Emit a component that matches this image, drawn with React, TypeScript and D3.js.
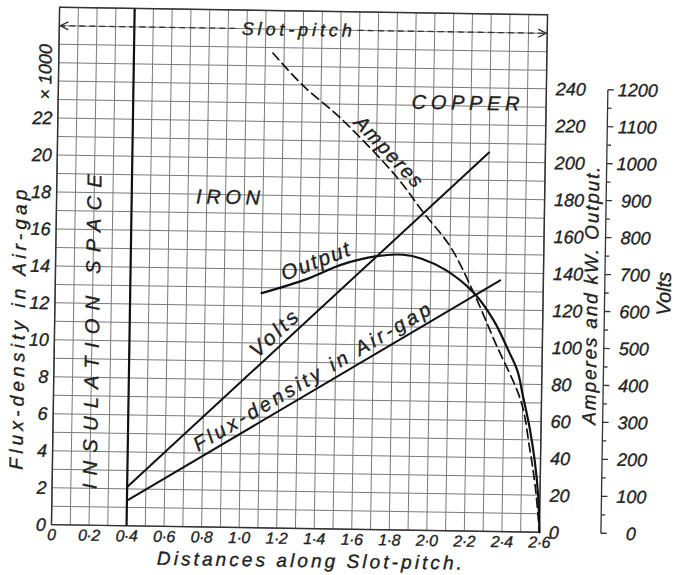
import React from "react";
import * as d3 from "d3";

const W = 682;
const H = 575;

// tick values
const xTicks = [0, 0.2, 0.4, 0.6, 0.8, 1.0, 1.2, 1.4, 1.6, 1.8, 2.0, 2.2, 2.4, 2.6];
const fluxTicks = [0, 2, 4, 6, 8, 10, 12, 14, 16, 18, 20, 22];
const ampTicks = [0, 20, 40, 60, 80, 100, 120, 140, 160, 180, 200, 220, 240];
const voltTicks = [0, 100, 200, 300, 400, 500, 600, 700, 800, 900, 1000, 1100, 1200];

// curves
const voltsX = [0.4, 2.3];
const voltsY = [105, 1025];

const fluxX = [0.4, 2.37];
const fluxY = [1.36, 13.6];

const outputX = [1.1, 1.34, 1.52, 1.71, 1.85, 1.95, 2.08, 2.23, 2.34, 2.42, 2.47, 2.5, 2.54, 2.57, 2.59, 2.6];
const outputY = [127, 135, 143, 148, 149, 147, 141, 129, 114, 98, 87, 74, 56, 38, 20, 0];

const ampX = [1.14, 1.3, 1.51, 1.81, 1.955, 2.1, 2.23, 2.35, 2.49, 2.54, 2.575, 2.6];
const ampY = [257, 240, 222, 191, 172, 154, 129, 102, 71, 46, 24, 0];

const font = "'Liberation Sans', Arial, sans-serif";

export default function App() {
  const x = d3.scaleLinear().domain([0, 2.6]).range([55.5, 543.5]);
  const yF = d3.scaleLinear().domain([0, 28]).range([528.5, 11]);
  const yA = d3.scaleLinear().domain([0, 280]).range([528.5, 11]);
  const yV = d3.scaleLinear().domain([0, 1400]).range([528.5, 11]);

  const gridX = d3.range(0, 27).map((i) => i / 10);
  const gridY = d3.range(0, 29);

  const lineOf = (xs: number[], ys: number[], ys2: (v: number) => number, curve: d3.CurveFactory = d3.curveLinear) =>
    d3
      .line<number>()
      .x((d, i) => x(xs[i]))
      .y((d) => ys2(d))
      .curve(curve)(ys) as string;

  const voltsPath = lineOf(voltsX, voltsY, yV);
  const fluxPath = lineOf(fluxX, fluxY, yF);
  const outputPath = lineOf(outputX, outputY, yA, d3.curveCatmullRom.alpha(0.5));
  const ampPath = lineOf(ampX, ampY, yA, d3.curveCatmullRom.alpha(0.5));

  const ang = (x1: number, y1: number, x2: number, y2: number) =>
    (Math.atan2(y2 - y1, x2 - x1) * 180) / Math.PI;

  const fmtX = (d: number) => (d === 0 ? "0" : d.toFixed(1).replace(".", "\u00b7"));

  // label anchors on the curves
  const vAt = d3.scaleLinear().domain(voltsX).range(voltsY);
  const fAt = d3.scaleLinear().domain(fluxX).range(fluxY);
  const oAt = d3.scaleLinear().domain(outputX).range(outputY);
  const aAt = d3.scaleLinear().domain(ampX).range(ampY);

  const voltsAng = ang(x(voltsX[0]), yV(voltsY[0]), x(voltsX[1]), yV(voltsY[1]));
  const fluxAng = ang(x(fluxX[0]), yF(fluxY[0]), x(fluxX[1]), yF(fluxY[1]));

  const slotY = yF(27);

  return (
    <svg
      width={W}
      height={H}
      style={{ position: "absolute", left: 0, top: 0, background: "#fff" }}
      fontFamily={font}
      fontStyle="italic"
    >
      <rect width={W} height={H} fill="#fff" />
      <g transform="rotate(0.9, 300, 270)">
        {/* grid */}
        <g stroke="#7a7a7a" strokeWidth={1}>
          {gridX.map((d) => (
            <line key={"gx" + d} x1={x(d)} x2={x(d)} y1={yF(0)} y2={yF(28)} />
          ))}
          {gridY.map((d) => (
            <line key={"gy" + d} x1={x(0)} x2={x(2.6)} y1={yF(d)} y2={yF(d)} />
          ))}
        </g>
        <rect
          x={x(0)}
          y={yF(28)}
          width={x(2.6) - x(0)}
          height={yF(0) - yF(28)}
          fill="none"
          stroke="#333"
          strokeWidth={1.5}
        />

        {/* insulation boundary */}
        <line x1={x(0.4)} x2={x(0.4)} y1={yF(0)} y2={yF(28)} stroke="#111" strokeWidth={2.2} />

        {/* slot-pitch arrow */}
        <g stroke="#333" strokeWidth={1.3} fill="none">
          <line x1={x(0)} x2={232} y1={slotY} y2={slotY} strokeDasharray="6,4" />
          <line x1={354} x2={x(2.6)} y1={slotY} y2={slotY} strokeDasharray="6,4" />
          <path d={`M${x(0) + 9},${slotY - 4} L${x(0) + 1},${slotY} L${x(0) + 9},${slotY + 4}`} />
          <path d={`M${x(2.6) - 9},${slotY - 4} L${x(2.6) - 1},${slotY} L${x(2.6) - 9},${slotY + 4}`} />
        </g>
        <g fill="#222" stroke="#222" strokeWidth={0.35}>
          <text x={293} y={slotY} dy="0.35em" textAnchor="middle" fontSize={18} textLength={110}>
            Slot-pitch
          </text>

          {/* curve labels */}
          <text
            transform={`translate(${x(1.217)},${yV(vAt(1.217))}) rotate(${voltsAng})`}
            y={-6}
            textAnchor="middle"
            fontSize={21}
            textLength={58}
          >
            Volts
          </text>
          <text
            transform={`translate(${x(1.41)},${yF(fAt(1.41))}) rotate(${fluxAng})`}
            y={-6}
            textAnchor="middle"
            fontSize={20}
            textLength={272}
          >
            Flux-density in Air-gap
          </text>
          <text
            transform={`translate(${x(1.41)},${yA(oAt(1.41))}) rotate(-22)`}
            y={-6}
            textAnchor="middle"
            fontSize={21}
            textLength={72}
          >
            Output
          </text>
          <text
            transform={`translate(${x(1.72)},${yA(aAt(1.72))}) rotate(45.5)`}
            y={-5}
            textAnchor="middle"
            fontSize={20}
            textLength={90}
          >
            Amperes
          </text>

          {/* region labels */}
          <text x={227} y={198} dy="0.35em" textAnchor="middle" fontSize={20} textLength={64}>
            IRON
          </text>
          <text x={463} y={100} dy="0.35em" textAnchor="middle" fontSize={20} textLength={108}>
            COPPER
          </text>
          <text
            transform="translate(93,335) rotate(-90)"
            dy="0.35em"
            textAnchor="middle"
            fontSize={20}
            textLength={315}
          >
            INSULATION SPACE
          </text>

          {/* bottom axis labels */}
          <g fontSize={16} textAnchor="middle">
            {xTicks.map((d) => (
              <text key={"xt" + d} x={x(d)} y={544} letterSpacing={-0.5}>
                {fmtX(d)}
              </text>
            ))}
          </g>
          <text x={314} y={567} fontSize={19} textAnchor="middle" textLength={305}>
            Distances along Slot-pitch.
          </text>

          {/* left axis labels */}
          <g fontSize={18} textAnchor="end">
            {fluxTicks.map((d) => (
              <text key={"ft" + d} x={50} y={yF(d)} dy="0.35em">
                {d}
              </text>
            ))}
          </g>
          <text transform="translate(42,76) rotate(-90)" dy="0.35em" textAnchor="middle" fontSize={18}>
            × 1000
          </text>
          <text
            transform="translate(19,334) rotate(-90)"
            dy="0.35em"
            textAnchor="middle"
            fontSize={19}
            textLength={280}
          >
            Flux-density in Air-gap
          </text>

          {/* amperes / kW axis labels */}
          <g fontSize={18} textAnchor="start">
            {ampTicks.map((d) => (
              <text key={"at" + d} x={553} y={yA(d)} dy="0.35em">
                {d}
              </text>
            ))}
          </g>
          <text
            transform="translate(591,291) rotate(-90)"
            dy="0.35em"
            textAnchor="middle"
            fontSize={19}
            textLength={258}
          >
            Amperes and kW. Output.
          </text>

          {/* volts axis labels */}
          <g fontSize={18} textAnchor="middle">
            {voltTicks.map((d) => (
              <text key={"vl" + d} x={635} y={yV(d)} dy="0.35em">
                {d}
              </text>
            ))}
          </g>
          <text transform="translate(664,288) rotate(-90)" dy="0.35em" textAnchor="middle" fontSize={20}>
            Volts
          </text>
        </g>

        {/* curves */}
        <g fill="none" stroke="#111" strokeLinecap="round">
          <path d={voltsPath} strokeWidth={2} />
          <path d={fluxPath} strokeWidth={2} />
          <path d={outputPath} strokeWidth={2.2} />
          <path d={ampPath} strokeWidth={1.7} strokeDasharray="9,5" />
        </g>

        {/* volts axis */}
        <g stroke="#333" strokeWidth={1.3}>
          <line x1={605} x2={605} y1={yV(0)} y2={yV(1200)} />
          {d3.range(0, 1201, 50).map((d) => (
            <line key={"vt" + d} x1={605} x2={d % 100 === 0 ? 611 : 609} y1={yV(d)} y2={yV(d)} />
          ))}
        </g>
      </g>
    </svg>
  );
}
